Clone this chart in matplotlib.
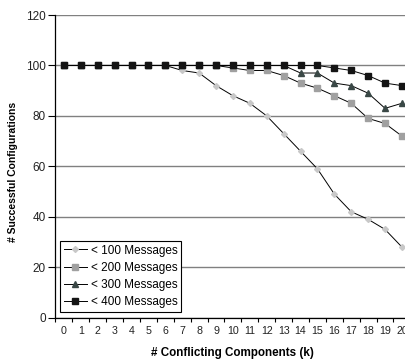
import matplotlib
matplotlib.use("Agg")
import matplotlib.pyplot as plt
from matplotlib.ticker import FixedLocator

plt.rcParams['font.family'] = ['Liberation Sans', 'DejaVu Sans']

# Number of conflicting components on the x axis
components = list(range(21))
tick_labels = [str(k) for k in components]

# Successful configurations per message budget
msg_100 = [100, 100, 100, 100, 100, 100, 100, 98, 97, 92, 88, 85, 80, 73, 66, 59, 49, 42, 39, 35, 28]
msg_200 = [100, 100, 100, 100, 100, 100, 100, 100, 100, 100, 99, 98, 98, 96, 93, 91, 88, 85, 79, 77, 72]
msg_300 = [100, 100, 100, 100, 100, 100, 100, 100, 100, 100, 100, 100, 100, 100, 97, 97, 93, 92, 89, 83, 85]
msg_400 = [100, 100, 100, 100, 100, 100, 100, 100, 100, 100, 100, 100, 100, 100, 100, 100, 99, 98, 96, 93, 92]

series_labels = ['< 100 Messages', '< 200 Messages', '< 300 Messages', '< 400 Messages']

W, H = 406, 363
fig = plt.figure(figsize=(W / 100, H / 100), dpi=100)
left, right, top, bottom = 55.5, 410.4, 15.0, 317.7
ax = fig.add_axes([left / W, (H - bottom) / H, (right - left) / W, (bottom - top) / H])

styles = [
    dict(marker='D', ms=3.0, mfc='#c8c8c8', mec='#c8c8c8'),
    dict(marker='s', ms=4.0, mfc='#a0a0a0', mec='#a0a0a0'),
    dict(marker='^', ms=4.2, mfc='#3a4846', mec='#3a4846'),
    dict(marker='s', ms=4.0, mfc='#141414', mec='#141414'),
]
for vals, lab, st in zip([msg_100, msg_200, msg_300, msg_400], series_labels, styles):
    ax.plot(components, vals, color='black', lw=0.7, label=lab, zorder=3, **st)

ax.set_xlim(-0.5, 20.5)
ax.set_ylim(0, 120)
ax.set_yticks(range(0, 121, 20))
ax.yaxis.grid(True, color='#808080', lw=1.0, zorder=0)
ax.set_axisbelow(True)

# category labels centred in bins, tick marks on bin edges
ax.xaxis.set_major_locator(FixedLocator(components))
ax.set_xticklabels(tick_labels)
ax.xaxis.set_minor_locator(FixedLocator([k - 0.5 for k in components] + [20.5]))
ax.tick_params(axis='x', which='major', length=0, pad=6, labelsize=7.7, colors='black')
ax.tick_params(axis='x', which='minor', length=3, width=0.8, direction='out', color='black')
ax.tick_params(axis='y', length=5, width=0.8, pad=2, labelsize=8.5, direction='out', color='black')
for lbl in ax.get_xticklabels() + ax.get_yticklabels():
    lbl.set_color('#222222')

for side in ('top', 'right'):
    ax.spines[side].set_visible(False)
for side in ('left', 'bottom'):
    ax.spines[side].set_color('black')
    ax.spines[side].set_linewidth(0.9)

fig.text(232 / W, 1 - 353 / H, '# Conflicting Components (k)', ha='center', va='center',
         fontsize=8.4, fontweight='bold')
fig.text(13 / W, 1 - 172 / H, '# Successful Configurations', ha='center', va='center',
         rotation=90, fontsize=7.5, fontweight='bold')

leg = ax.legend(loc='lower left', bbox_to_anchor=((60 - left) / (right - left), (bottom - 312) / (bottom - top)),
                borderaxespad=0, fontsize=8.5, frameon=True, fancybox=False, framealpha=1,
                edgecolor='black', handlelength=2.0, handletextpad=0.3, labelspacing=0.45,
                borderpad=0.3)
leg.get_frame().set_linewidth(0.8)

fig.savefig('out.png', dpi=100)
